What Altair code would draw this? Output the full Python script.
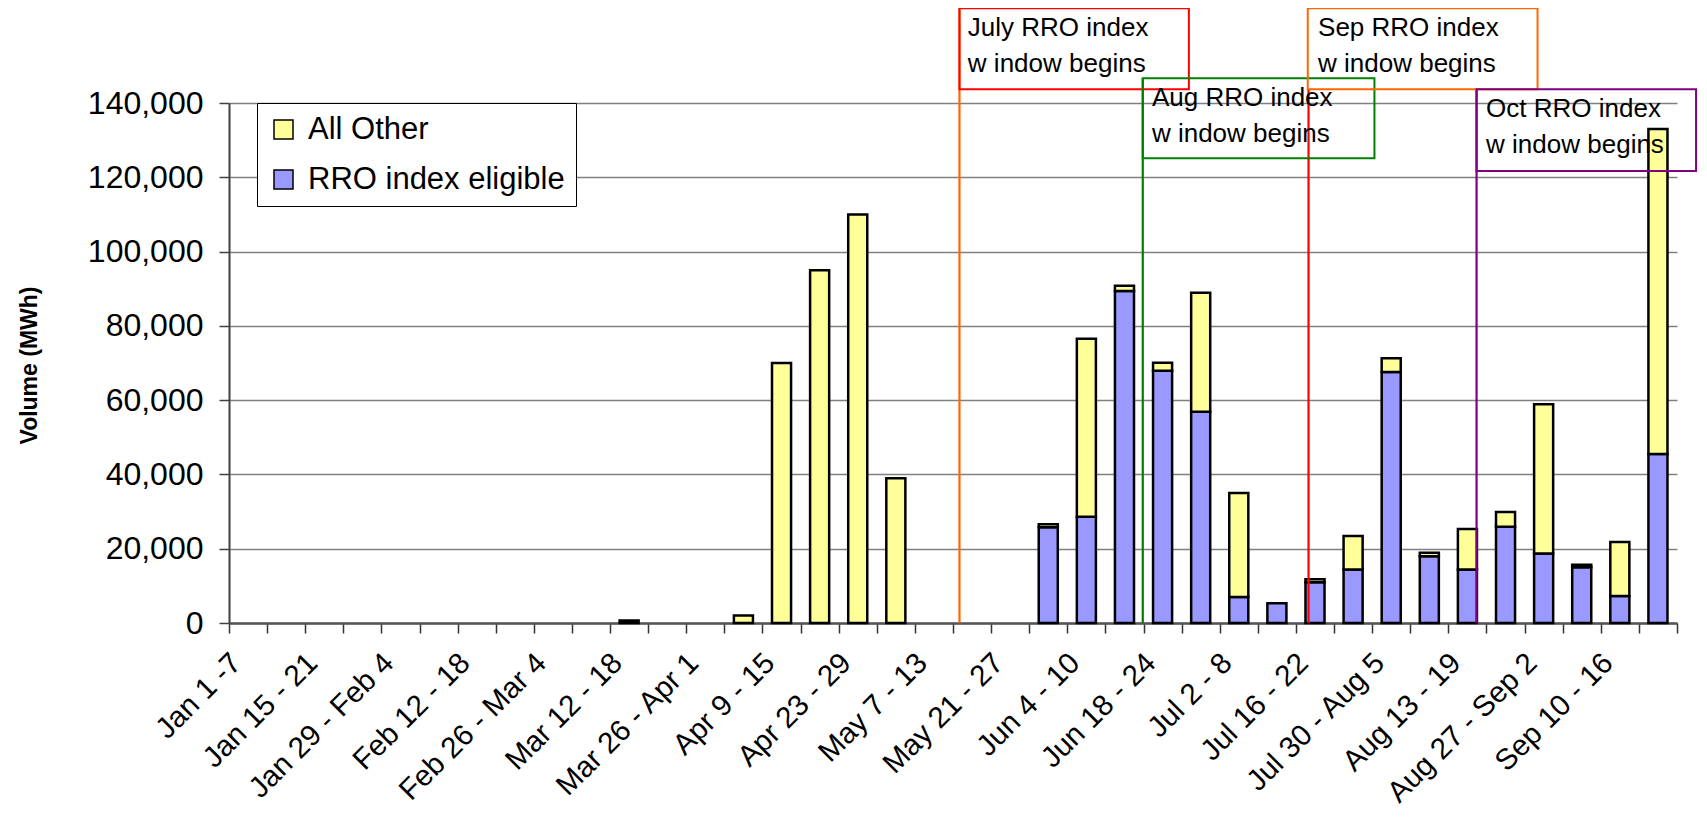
import json
import altair as alt
import pandas as pd

# ---------------- data ----------------
weeks = [
    "Jan 1 -7", "Jan 8 - 14", "Jan 15 - 21", "Jan 22 - 28", "Jan 29 - Feb 4",
    "Feb 5 - 11", "Feb 12 - 18", "Feb 19 - 25", "Feb 26 - Mar 4", "Mar 5 - 11",
    "Mar 12 - 18", "Mar 19 - 25", "Mar 26 - Apr 1", "Apr 2 - 8", "Apr 9 - 15",
    "Apr 16 - 22", "Apr 23 - 29", "Apr 30 - May 6", "May 7 - 13", "May 14 - 20",
    "May 21 - 27", "May 28 - Jun 3", "Jun 4 - 10", "Jun 11 - 17", "Jun 18 - 24",
    "Jun 25 - Jul 1", "Jul 2 - 8", "Jul 9 - 15", "Jul 16 - 22", "Jul 23 - 29",
    "Jul 30 - Aug 5", "Aug 6 - 12", "Aug 13 - 19", "Aug 20 - 26", "Aug 27 - Sep 2",
    "Sep 3 - 9", "Sep 10 - 16", "Sep 17 - 23",
]

rro_eligible = [
    0, 0, 0, 0, 0, 0, 0, 0, 0, 0,
    0, 0, 0, 0, 0, 0, 0, 0, 0, 0,
    0, 25800, 28600, 89400, 67900, 56900, 7000, 5300, 11000, 14400,
    67600, 18000, 14400, 25900, 18700, 15000, 7300, 45500,
]

all_other = [
    0, 0, 0, 0, 0, 0, 0, 0, 0, 0,
    700, 0, 0, 2000, 70000, 95000, 110000, 39000, 0, 0,
    0, 800, 47900, 1400, 2200, 32000, 28000, 0, 800, 9000,
    3700, 900, 10900, 4000, 40200, 700, 14500, 87500,
]

shown_labels = weeks[::2]

series_names = ["All Other", "RRO index eligible"]
series_colors = ["#FFFF99", "#9999FF"]

y_ticks = [0, 20000, 40000, 60000, 80000, 100000, 120000, 140000]

# annotation boxes (x in week units from the left axis, y in MWh)
box_names = ["July", "Aug", "Sep", "Oct"]
box_x1 = [19.17, 23.98, 28.31, 32.74]
box_x2 = [25.19, 30.06, 34.34, 38.50]
box_top = [165500, 146650, 165500, 143700]
box_bottom = [143700, 125100, 143700, 121700]
box_colors = ["#FF0000", "#008000", "#FF6600", "#800080"]

line_x = [19.17, 23.98, 28.33, 32.74]
line_top = [165500, 146650, 143700, 143700]
line_colors = ["#FF6600", "#008000", "#FF0000", "#800080"]

text_line1 = ["July  RRO index", "Aug RRO index", "Sep RRO index", "Oct RRO index"]
text_line2 = ["w indow  begins"] * 4
text_x = [19.39, 24.22, 28.58, 32.99]
text_y1 = [158040, 139190, 158040, 136230]
text_y2 = [148440, 129580, 148440, 126620]

# ---------------- tables ----------------
rows = []
for i, w in enumerate(weeks):
    if rro_eligible[i] > 0:
        rows.append({"week": w, "series": "RRO index eligible", "value": rro_eligible[i], "ord": 0})
    if all_other[i] > 0:
        rows.append({"week": w, "series": "All Other", "value": all_other[i], "ord": 1})
bars_df = pd.DataFrame(rows)

boxes_df = pd.DataFrame({"name": box_names, "x1": box_x1, "x2": box_x2,
                         "y1": box_top, "y2": box_bottom, "color": box_colors})
lines_df = pd.DataFrame({"x": line_x, "y1": line_top, "y2": [0] * 4, "color": line_colors})
texts_df = pd.DataFrame({
    "x": text_x + text_x,
    "y": text_y1 + text_y2,
    "text": text_line1 + text_line2,
})

FONT = "Liberation Sans"
YDOM = alt.Scale(domain=[0, 140000], nice=False, zero=True)
XANN = alt.Scale(domain=[0, 38], nice=False, zero=False)

label_expr = "indexof(" + json.dumps(shown_labels) + ", datum.value) >= 0 ? datum.value : ''"

bars = alt.Chart(bars_df).mark_bar(
    stroke="black", strokeWidth=2.5, width=alt.RelativeBandSize(0.5)
).encode(
    x=alt.X(
        "week:N",
        sort=weeks,
        scale=alt.Scale(domain=weeks, paddingInner=0, paddingOuter=0),
        axis=alt.Axis(
            title=None,
            labelAngle=-45,
            labelAlign="right",
            labelBaseline="middle",
            labelFont=FONT,
            labelFontSize=29.5,
            labelColor="black",
            labelExpr=label_expr,
            labelOverlap=False,
            labelLimit=500,
            labelPadding=25,
            labelOffset=-12,
            tickBand="extent",
            tickSize=10,
            tickColor="#333333",
            tickWidth=1.5,
            domainColor="#555555",
            domainWidth=2.5,
            grid=False,
        ),
    ),
    y=alt.Y(
        "value:Q",
        stack="zero",
        scale=YDOM,
        axis=alt.Axis(
            title="Volume (MWh)",
            titleFont=FONT,
            titleFontSize=23,
            titleFontWeight="bold",
            titleColor="black",
            titleAngle=-90,
            titleX=-200,
            titleY=262,
            titleAlign="center",
            titleBaseline="middle",
            values=y_ticks,
            format=",d",
            labelFont=FONT,
            labelFontSize=32,
            labelColor="black",
            labelPadding=16,
            tickSize=10,
            tickColor="#404040",
            tickWidth=1.5,
            domainColor="#404040",
            domainWidth=2,
            gridColor="#808080",
            gridWidth=1.5,
        ),
    ),
    color=alt.Color(
        "series:N",
        scale=alt.Scale(domain=series_names, range=series_colors),
        legend=alt.Legend(
            title=None,
            orient="none",
            legendX=28,
            legendY=0,
            direction="vertical",
            strokeColor="black",
            fillColor="white",
            padding=11,
            symbolType="square",
            symbolSize=361,
            symbolStrokeColor="black",
            symbolStrokeWidth=1.5,
            symbolOpacity=1,
            labelFont=FONT,
            labelFontSize=31,
            labelColor="black",
            labelOffset=9,
            labelLimit=500,
            rowPadding=18,
        ),
    ),
    order=alt.Order("ord:Q", sort="ascending"),
)

rules = alt.Chart(lines_df).mark_rule(strokeWidth=2.2).encode(
    x=alt.X("x:Q", scale=XANN, axis=None),
    y=alt.Y("y1:Q", scale=YDOM, axis=None),
    y2="y2:Q",
    stroke=alt.Stroke("color:N", scale=None),
)

boxes = alt.Chart(boxes_df).mark_rect(filled=False, strokeWidth=2).encode(
    x=alt.X("x1:Q", scale=XANN, axis=None),
    x2="x2:Q",
    y=alt.Y("y1:Q", scale=YDOM, axis=None),
    y2="y2:Q",
    stroke=alt.Stroke("color:N", scale=None),
)

texts = alt.Chart(texts_df).mark_text(
    align="left", baseline="alphabetic", font=FONT, fontSize=26, color="black"
).encode(
    x=alt.X("x:Q", scale=XANN, axis=None),
    y=alt.Y("y:Q", scale=YDOM, axis=None),
    text="text:N",
)

chart = (
    alt.layer(bars, rules, boxes, texts)
    .resolve_scale(x="independent", y="independent")
    .properties(
        width=1448,
        height=520,
        autosize=alt.AutoSizeParams(type="none"),
        padding={"left": 221, "top": 95, "right": 22, "bottom": 186},
        background="white",
    )
    .configure_view(strokeWidth=0)
)

chart.save("out.html", embed_options={"renderer": "svg", "actions": False})
